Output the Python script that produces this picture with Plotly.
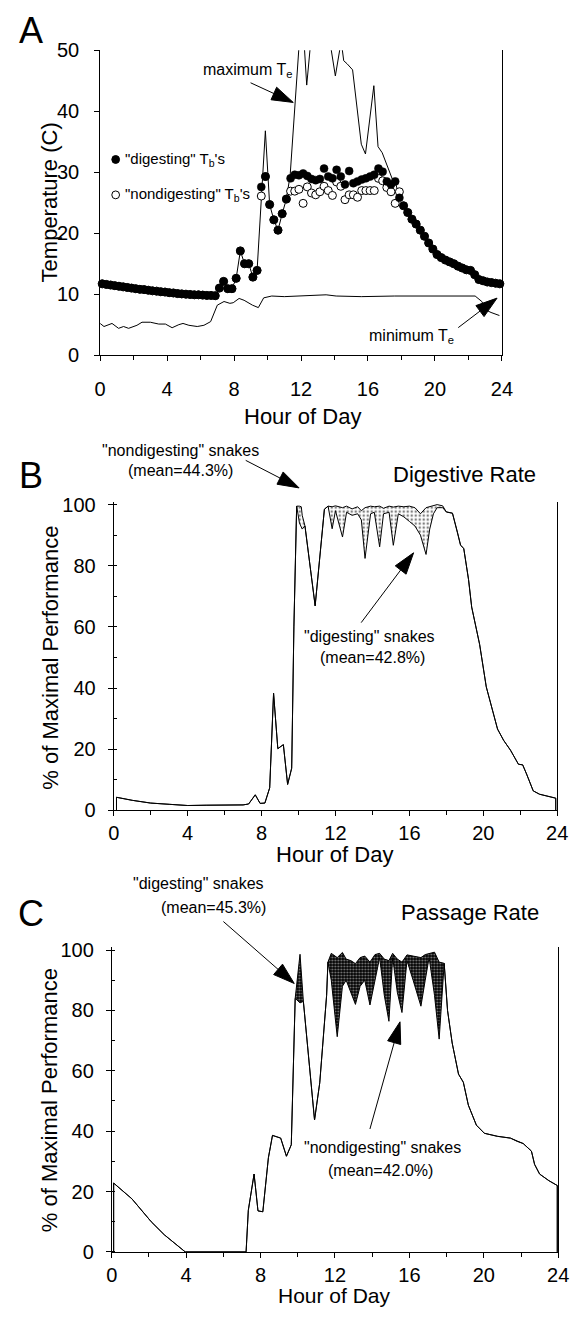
import plotly.graph_objects as go

W, H = 576, 1317
FONT = "Liberation Sans, Arial, Helvetica, sans-serif"

# ---------------- Panel A data ----------------
tb_hours = [0.125 + 0.25 * k for k in range(96)]
tb_digesting = [
    11.7, 11.6, 11.5, 11.4, 11.3, 11.2, 11.1, 11.0, 10.9, 10.8, 10.75, 10.65, 10.55, 10.5,
    10.4, 10.35, 10.25, 10.2, 10.1, 10.05, 10.0, 9.95, 9.9, 9.9, 9.85, 9.8, 9.8, 9.75,
    11.0, 12.1, 10.9, 10.9, 12.6, 17.1, 15.0, 15.0,
    12.8, 13.9, 27.6, 29.3, 24.7, 22.2, 20.5, 23.2,
    25.6, 29.0, 29.6, 29.5, 29.8, 29.4, 28.9, 28.7,
    28.9, 30.6, 29.3, 29.0, 30.4, 29.3, 28.0, 30.2,
    28.2, 28.5, 28.8, 29.0, 29.3, 29.6, 30.6, 30.1,
    28.5, 28.0, 28.5, 25.8, 24.5, 23.4, 22.3, 21.5,
    20.5, 19.5, 18.4, 17.4, 16.5, 16.0, 15.6, 15.3,
    15.0, 14.6, 14.3, 14.0, 13.9, 13.2, 12.4, 12.2,
    12.0, 11.9, 11.8, 11.7]
tb_nondigesting = [
    11.7, 11.6, 11.5, 11.4, 11.3, 11.2, 11.1, 11.0, 10.9, 10.8, 10.75, 10.65, 10.55, 10.5,
    10.4, 10.35, 10.25, 10.2, 10.1, 10.05, 10.0, 9.95, 9.9, 9.9, 9.85, 9.8, 9.8, 9.75,
    11.0, 12.1, 10.9, 10.9, 12.6, 17.1, 15.0, 15.0,
    12.8, 13.9, 26.1, 29.3, 24.7, 22.2, 20.5, 23.2,
    25.6, 26.9, 26.9, 27.2, 24.9, 27.6, 26.6, 26.3,
    26.8, 27.7, 27.0, 26.2, 28.4, 27.7, 25.5, 26.3,
    26.3, 25.9, 27.0, 27.0, 27.0, 27.0, 29.0, 28.6,
    27.5, 26.8, 24.9, 26.8, 24.5, 23.4, 22.3, 21.5,
    20.5, 19.5, 18.4, 17.4, 16.5, 16.0, 15.6, 15.3,
    15.0, 14.6, 14.3, 14.0, 13.9, 13.2, 12.4, 12.2,
    12.0, 11.9, 11.8, 11.7]

maxte_hours = [6.875, 7.125, 7.375, 7.625, 7.875, 8.125, 8.375, 8.625, 8.875,
               9.125, 9.375, 9.87, 10.125, 10.375, 10.625, 10.875, 11.125,
               11.35, 11.9, 12.1, 12.34, 12.6, 13.0, 13.4, 13.75,
               14.05, 14.4, 14.55, 14.75, 15.08, 15.6, 15.85, 16.35,
               16.6, 16.85, 17.45, 17.625, 17.875]
maxte_vals = [9.75, 11.0, 12.1, 10.9, 10.9, 12.6, 17.1, 15.0, 15.0,
              12.8, 13.9, 36.8, 24.7, 22.2, 20.5, 23.2, 25.6,
              29.5, 51.5, 55, 44.3, 52, 60, 60, 51,
              45.8, 51.5, 48.3, 47.8, 46.8, 34.6, 33.0, 44.2,
              34.2, 33.2, 28.9, 28.5, 25.8]

minte_hours = [0, 0.23, 0.71, 1.1, 1.4, 1.7, 2.2, 2.5, 3.0, 3.5, 3.9, 4.3, 4.7, 4.95, 5.3,
               5.8, 6.2, 6.6, 7.0, 7.4, 7.75, 7.95, 8.3, 8.6, 9.1, 9.45, 9.77, 10.25, 11.0,
               11.8, 12.95, 13.5, 14.1, 15.6, 17.6, 19.5, 22.4, 22.8, 23.05, 23.35, 23.7, 23.85]
minte_vals = [5.2, 4.7, 5.2, 4.4, 4.7, 4.4, 4.9, 5.4, 5.4, 5.1, 5.1, 4.5, 5.0, 5.2, 4.9,
              4.7, 4.9, 5.5, 8.2, 8.8, 8.5, 8.6, 9.3, 9.0, 8.2, 7.8, 9.4, 9.7, 9.6,
              9.7, 9.9, 9.9, 9.7, 9.6, 9.7, 9.7, 9.7, 8.8, 7.4, 7.0, 6.6, 6.5]

# ---------------- Panel B data ----------------
b_hours = [0.15, 0.15, 1.0, 2.0, 3.0, 4.0, 5.0, 6.0, 7.0, 7.3, 7.66, 7.92, 8.18, 8.44, 8.65,
           8.88, 9.18, 9.41, 9.63, 9.75, 9.9, 10.05, 10.15, 10.2, 10.35, 10.9, 11.4, 11.6,
           11.82, 12.0, 12.38, 12.6, 12.9, 13.2, 13.4, 13.6, 13.9, 14.1, 14.39, 14.6, 14.9,
           15.13, 15.4, 15.7, 16.0, 16.3, 16.6, 16.9, 17.1, 17.3, 17.5, 17.8, 18.0, 18.33,
           18.6, 18.77, 18.94, 19.2, 19.37, 19.8, 20.16, 20.6, 20.77, 21.1, 21.47, 21.9,
           22.13, 22.34, 22.7, 23.04, 23.57, 23.92, 23.92]
b_nondigesting = [0, 4.3, 3.3, 2.4, 2.0, 1.6, 1.7, 1.7, 1.8, 2.1, 5.1, 2.3, 2.4, 7.4, 38.3,
                  20.2, 21.5, 8.5, 13.8, 60, 99.5, 99.5, 99.3, 96.5, 93, 66.9, 98.5, 99.5,
                  99.3, 99.6, 99.0, 99.5, 98.6, 99.3, 98.0, 99.0, 99.5, 99.3, 99.5, 98.8, 99.5,
                  99.2, 99.5, 99.3, 99.5, 99.0, 97.0, 99.0, 99.3, 99.5, 100, 99.6, 97.6, 97.2,
                  91, 86.7, 85.7, 75.5, 66.5, 54.3, 40.4, 30.9, 26.6, 22.9, 19.7, 15.1,
                  14.9, 11.9, 6.4, 5.3, 4.5, 4.0, 0]
b_digesting = [0, 4.3, 3.3, 2.4, 2.0, 1.6, 1.7, 1.7, 1.8, 2.1, 5.1, 2.3, 2.4, 7.4, 38.3,
               20.2, 21.5, 8.5, 13.8, 60, 99.5, 94, 92.5, 92, 93, 66.9, 98.5, 99.5,
               92.1, 98, 89.4, 97.5, 96.5, 97, 95, 82.4, 97, 97.5, 86.2, 97, 97.5,
               86.7, 97, 96, 94.5, 93, 90, 83.7, 92, 97, 99, 99, 97.6, 97.2,
               91, 86.7, 85.7, 75.5, 66.5, 54.3, 40.4, 30.9, 26.6, 22.9, 19.7, 15.1,
               14.9, 11.9, 6.4, 5.3, 4.5, 4.0, 0]

# ---------------- Panel C data ----------------
c_hours = [0.1, 0.1, 1.08, 2.12, 2.82, 3.95, 7.22, 7.34, 7.65, 7.86, 8.12, 8.42, 8.64, 9.08,
           9.39, 9.65, 9.86, 10.12, 10.3, 10.9, 11.18, 11.55, 11.62, 11.8, 12.12, 12.4, 12.6,
           12.85, 13.1, 13.35, 13.6, 13.88, 14.15, 14.4, 14.65, 14.9, 15.1, 15.35, 15.6,
           15.87, 16.2, 16.62, 16.85, 17.06, 17.35, 17.6, 17.87, 18.05, 18.3, 18.64, 18.9,
           19.17, 19.6, 20.03, 20.73, 21.43, 21.8, 22.12, 22.56, 22.73, 23.0, 23.5, 23.95, 23.95]
c_digesting = [0, 22.8, 17.6, 10.0, 5.7, 0, 0, 13.8, 25.8, 13.6, 13.3, 31.2, 38.6, 37.7,
               31.7, 35.5, 84, 98.6, 83, 43.7, 56, 85, 96, 98.9, 97.5, 99.2, 97,
               96.5, 95.5, 97.5, 98, 96, 98.5, 98.9, 97, 96.5, 98.9, 97, 96,
               98.4, 98, 97.5, 98.5, 98.9, 99.3, 96, 95.6, 80, 69.2, 58.9, 56.2,
               48.6, 42, 39.3, 38.3, 37.7, 36.6, 35.9, 33.4, 29, 25.8, 23.6, 22, 0]
c_nondigesting = [0, 22.8, 17.6, 10.0, 5.7, 0, 0, 13.8, 25.8, 13.6, 13.3, 31.2, 38.6, 37.7,
                  31.7, 35.5, 84, 82.5, 83, 43.7, 56, 85, 96, 90, 71.3, 88, 90,
                  86, 82, 88, 90, 81.8, 90, 97.5, 85, 76.4, 97.5, 86, 79.3,
                  96.5, 90, 81.4, 90, 97.5, 85, 70.5, 95.6, 80, 69.2, 58.9, 56.2,
                  48.6, 42, 39.3, 38.3, 37.7, 36.6, 35.9, 33.4, 29, 25.8, 23.6, 22, 0]

hour_ticks = [0, 4, 8, 12, 16, 20, 24]
pct_ticks = [0, 20, 40, 60, 80, 100]


def px(x):
    return x / W


def py(y):
    return 1 - y / H


fig = go.Figure()

# Panel A
fig.add_trace(go.Scatter(x=minte_hours, y=minte_vals, mode="lines",
                         line=dict(color="black", width=1), xaxis="x", yaxis="y"))
fig.add_trace(go.Scatter(x=maxte_hours, y=maxte_vals, mode="lines",
                         line=dict(color="black", width=1), xaxis="x", yaxis="y"))
fig.add_trace(go.Scatter(x=tb_hours, y=tb_nondigesting, mode="markers", cliponaxis=False,
                         marker=dict(symbol="circle", size=8, color="white",
                                     line=dict(color="black", width=1)),
                         xaxis="x", yaxis="y"))
fig.add_trace(go.Scatter(x=tb_hours, y=tb_digesting, mode="markers", cliponaxis=False,
                         marker=dict(symbol="circle", size=8, color="black",
                                     line=dict(color="black", width=0.5)),
                         xaxis="x", yaxis="y"))

# Panel B (light stipple between curves)
fig.add_trace(go.Scatter(x=b_hours, y=b_digesting, mode="lines",
                         line=dict(color="black", width=1), xaxis="x2", yaxis="y2"))
fig.add_trace(go.Scatter(x=b_hours, y=b_nondigesting, mode="lines",
                         line=dict(color="black", width=1), fill="tonexty",
                         fillcolor="white",
                         fillpattern=dict(shape=".", fgcolor="black", bgcolor="white",
                                          size=4, solidity=0.3),
                         xaxis="x2", yaxis="y2"))

# Panel C (dark stipple between curves)
fig.add_trace(go.Scatter(x=c_hours, y=c_nondigesting, mode="lines",
                         line=dict(color="black", width=1), xaxis="x3", yaxis="y3"))
fig.add_trace(go.Scatter(x=c_hours, y=c_digesting, mode="lines",
                         line=dict(color="black", width=1), fill="tonexty",
                         fillcolor="black",
                         fillpattern=dict(shape=".", fgcolor="white", bgcolor="black",
                                          size=3, solidity=0.35),
                         xaxis="x3", yaxis="y3"))

tickfont = dict(family=FONT, size=20, color="black")


def xaxis(x0, x1, anchor, standoff):
    return dict(domain=[px(x0), px(x1)], range=[0, 24], tickvals=hour_ticks,
                ticks="outside", ticklen=5, tickwidth=1, tickcolor="black",
                showline=True, linecolor="black", linewidth=1, showgrid=False,
                zeroline=False, tickfont=tickfont, ticklabelstandoff=standoff,
                ticklabeloverflow="allow",
                minor=dict(dtick=2, ticks="outside", ticklen=4, tickcolor="black"),
                anchor=anchor)


def yaxis(ytop_px, ybot_px, rng, tickvals, minor, anchor, standoff):
    d = dict(domain=[py(ybot_px), py(ytop_px)], range=rng, tickvals=tickvals,
             ticks="outside", ticklen=5, tickwidth=1, tickcolor="black",
             showline=True, linecolor="black", linewidth=1, mirror=True, showgrid=False,
             zeroline=False, tickfont=tickfont, ticklabelstandoff=standoff,
             ticklabeloverflow="allow", anchor=anchor)
    if minor:
        d["minor"] = dict(dtick=minor, ticks="inside", ticklen=3, tickcolor="black")
    return d


xa = xaxis(97, 511, "y", 11)
xb = xaxis(111, 568, "y2", 0)
xc = xaxis(109, 569, "y3", 0)

ya = yaxis(40, 350, [0, 50], [0, 10, 20, 30, 40, 50], None, "x", 11)
yb = yaxis(813 - 101 * 3.11, 813, [0, 101], pct_ticks, 10, "x2", 8)
yc = yaxis(1262 - 101 * 3.07, 1262, [0, 101], pct_ticks, 10, "x3", 8)

annotations = []


def text(x, y, s, size=16, xanchor="center", angle=0):
    annotations.append(dict(x=px(x), y=py(y), xref="paper", yref="paper", text=s,
                            showarrow=False, xanchor=xanchor, yanchor="middle",
                            textangle=angle,
                            font=dict(family=FONT, size=size, color="black")))


# Panel letters
text(26, 20, "A", size=36)
text(26, 472, "B", size=36)
text(26, 918, "C", size=36)

# Panel A labels
text(45, 195, "Temperature (C)", size=22, angle=-90)
text(306, 412, "Hour of Day", size=22)
text(249, 61, "maximum T<sub>e</sub>", size=16)
text(418, 331, "minimum T<sub>e</sub>", size=16)
text(121, 151, "\"digesting\" T<sub>b</sub>'s", size=15, xanchor="left")
text(121, 187, "\"nondigesting\" T<sub>b</sub>'s", size=15, xanchor="left")

# Panel B labels
text(45, 658, "% of Maximal Performance", size=22, angle=-90)
text(339, 858, "Hour of Day", size=22)
text(180, 447, "\"nondigesting\" snakes", size=16)
text(180, 467, "(mean=44.3%)", size=16)
text(472, 471, "Digestive Rate", size=22)
text(375, 636, "\"digesting\" snakes", size=16)
text(378, 657, "(mean=42.8%)", size=16)

# Panel C labels
text(45, 1108, "% of Maximal Performance", size=22, angle=-90)
text(339, 1306, "Hour of Day", size=21)
text(198, 887, "\"digesting\" snakes", size=16)
text(214, 912, "(mean=45.3%)", size=16)
text(478, 917, "Passage Rate", size=22)
text(388, 1156, "\"nondigesting\" snakes", size=16)
text(386, 1179, "(mean=42.0%)", size=16)

shapes = []


def arrow(tx, ty, hx, hy, L=22, w=7):
    dx, dy = hx - tx, hy - ty
    n = (dx * dx + dy * dy) ** 0.5
    ux, uy = dx / n, dy / n
    bx, by = hx - L * ux, hy - L * uy
    nx, ny = -uy, ux
    shapes.append(dict(type="line", xref="paper", yref="paper",
                       x0=px(tx), y0=py(ty), x1=px(bx + 2 * ux), y1=py(by + 2 * uy),
                       line=dict(color="black", width=1)))
    p = "M {} {} L {} {} L {} {} Z".format(
        px(hx), py(hy), px(bx + w * nx), py(by + w * ny), px(bx - w * nx), py(by - w * ny))
    shapes.append(dict(type="path", xref="paper", yref="paper", path=p,
                       fillcolor="black", line=dict(color="black", width=1)))


arrow(252, 73, 296, 93)
arrow(466, 322, 506, 292)
arrow(247, 457, 302, 485)
arrow(366, 622, 420, 551)
arrow(224, 926, 297, 989)
arrow(375, 1137, 406, 1028)

# legend keys for panel A
r = 4
for cy, fc in ((151, "black"), (187, "white")):
    shapes.append(dict(type="circle", xref="paper", yref="paper",
                       x0=px(113 - r), x1=px(113 + r), y0=py(cy + r), y1=py(cy - r),
                       fillcolor=fc, line=dict(color="black", width=1)))

fig.update_layout(
    width=W, height=H, autosize=False,
    margin=dict(l=0, r=0, t=0, b=0),
    paper_bgcolor="white", plot_bgcolor="white",
    showlegend=False, hovermode=False,
    xaxis=xa, yaxis=ya, xaxis2=xb, yaxis2=yb, xaxis3=xc, yaxis3=yc,
    annotations=annotations, shapes=shapes,
    font=dict(family=FONT, color="black"),
)

fig.write_html(
    "out.html",
    config={"displayModeBar": False, "staticPlot": True},
    post_script="document.body.style.margin='0px';document.body.style.padding='0px';"
                "document.documentElement.style.overflow='hidden';"
                "document.body.style.overflow='hidden';",
)
